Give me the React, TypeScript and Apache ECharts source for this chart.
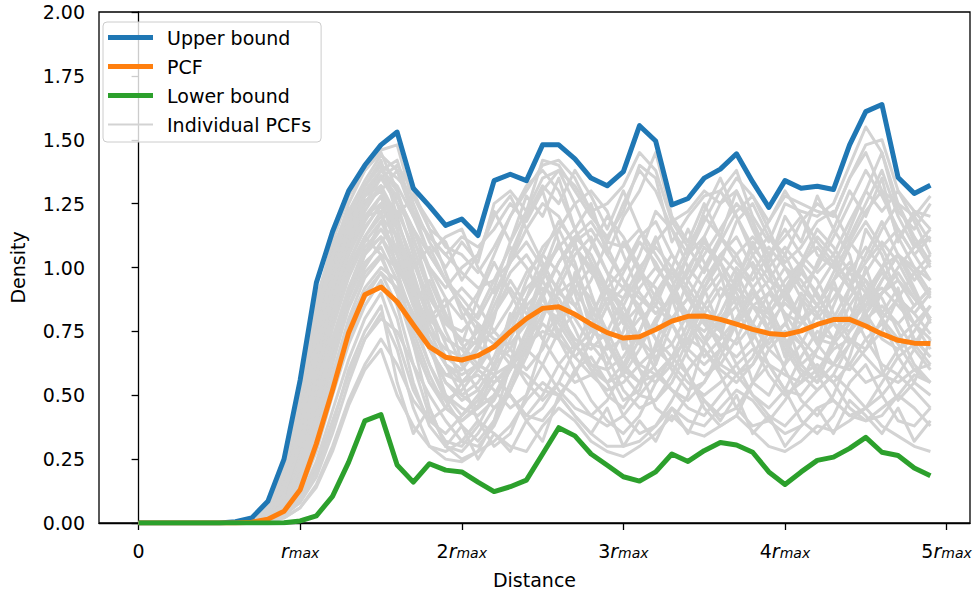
import React, { useEffect, useRef } from 'react';
import * as echarts from 'echarts';

const DISTANCE = [
  0.0, 0.1, 0.2, 0.3, 0.4, 0.5, 0.6, 0.7, 0.8, 0.9,
  1.0, 1.1, 1.2, 1.3, 1.4, 1.5, 1.6, 1.7, 1.8, 1.9,
  2.0, 2.1, 2.2, 2.3, 2.4, 2.5, 2.6, 2.7, 2.8, 2.9,
  3.0, 3.1, 3.2, 3.3, 3.4, 3.5, 3.6, 3.7, 3.8, 3.9,
  4.0, 4.1, 4.2, 4.3, 4.4, 4.5, 4.6, 4.7, 4.8, 4.9,
];

const UPPER_BOUND = [
  0, 0, 0, 0, 0, 0, 0.005, 0.02, 0.085, 0.25,
  0.56, 0.94, 1.14, 1.3, 1.4, 1.48, 1.53, 1.31, 1.24, 1.165,
  1.19, 1.125, 1.34, 1.365, 1.34, 1.48, 1.48, 1.425, 1.35, 1.32,
  1.375, 1.555, 1.495, 1.245, 1.27, 1.35, 1.385, 1.445, 1.335, 1.235,
  1.34, 1.31, 1.318, 1.305, 1.48, 1.61, 1.638, 1.352, 1.29, 1.322,
];

const PCF = [
  0, 0, 0, 0, 0, 0, 0, 0.003, 0.015, 0.046,
  0.13, 0.31, 0.52, 0.745, 0.893, 0.924, 0.866, 0.776, 0.689, 0.649,
  0.638, 0.655, 0.69, 0.748, 0.8, 0.84, 0.846, 0.817, 0.778, 0.745,
  0.724, 0.729, 0.757, 0.79, 0.809, 0.81, 0.797, 0.778, 0.758, 0.742,
  0.737, 0.752, 0.777, 0.796, 0.797, 0.771, 0.74, 0.715, 0.704, 0.703,
];

const LOWER_BOUND = [
  0, 0, 0, 0, 0, 0, 0, 0, 0, 0.001,
  0.008, 0.028, 0.104, 0.238, 0.4, 0.424, 0.227, 0.16, 0.232, 0.207,
  0.2, 0.16, 0.123, 0.142, 0.168, 0.27, 0.373, 0.341, 0.27, 0.226,
  0.181, 0.164, 0.2, 0.27, 0.241, 0.283, 0.315, 0.305, 0.277, 0.2,
  0.151, 0.2, 0.245, 0.258, 0.292, 0.335, 0.277, 0.264, 0.215, 0.185,
];

const PCF_01 = [0,0,0,0,0,0,0,0.02,0.08,0.24, 0.52,0.88,1.08,1.22,1.32,1.40,1.25,1.05,0.85,0.62, 0.55,0.62,0.80,1.05,1.20,1.30,1.10,0.90,0.70,0.62, 0.75,0.98,1.12,0.95,0.80,0.65,0.72,0.95,1.10,0.98, 0.80,0.62,0.55,0.70,0.92,1.15,1.05,0.88,0.72,0.65];
const PCF_02 = [0,0,0,0,0,0,0,0.01,0.05,0.15, 0.38,0.66,0.90,1.08,1.20,1.28,1.15,0.95,0.70,0.50, 0.42,0.48,0.62,0.78,0.95,1.08,1.15,1.02,0.82,0.60, 0.48,0.52,0.70,0.88,1.05,1.12,0.98,0.75,0.55,0.50, 0.62,0.85,1.02,1.15,1.05,0.82,0.60,0.48,0.55,0.72];
const PCF_03 = [0,0,0,0,0,0,0,0,0.01,0.03, 0.10,0.22,0.40,0.58,0.72,0.80,0.75,0.62,0.50,0.40, 0.32,0.30,0.38,0.52,0.68,0.78,0.72,0.60,0.48,0.40, 0.35,0.42,0.55,0.65,0.58,0.45,0.38,0.42,0.55,0.62, 0.52,0.40,0.35,0.42,0.55,0.62,0.50,0.40,0.38,0.45];
const PCF_04 = [0,0,0,0,0,0,0,0.02,0.06,0.20, 0.48,0.80,1.02,1.18,1.30,1.38,1.42,1.22,1.05,0.95, 0.88,0.80,0.92,1.10,1.22,1.35,1.38,1.25,1.10,0.98, 0.92,1.05,1.22,1.15,1.00,0.92,1.02,1.18,1.25,1.12, 1.02,1.08,1.18,1.22,1.10,1.02,1.15,1.25,1.12,1.02];
const PCF_05 = [0,0,0,0,0,0,0,0.01,0.03,0.10, 0.28,0.55,0.80,1.00,1.12,1.05,0.90,0.72,0.55,0.45, 0.40,0.46,0.58,0.72,0.85,0.92,0.88,0.76,0.62,0.55, 0.58,0.68,0.80,0.88,0.82,0.72,0.62,0.58,0.65,0.78, 0.86,0.80,0.70,0.62,0.60,0.68,0.80,0.88,0.82,0.74];
const PCF_06 = [0,0,0,0,0,0,0,0.01,0.04,0.12, 0.30,0.58,0.85,1.05,1.20,1.22,1.00,0.70,0.45,0.30, 0.25,0.28,0.40,0.62,0.88,1.05,1.18,1.10,0.90,0.72, 0.60,0.55,0.62,0.78,0.95,1.08,1.02,0.85,0.70,0.58, 0.50,0.55,0.68,0.85,1.00,0.95,0.80,0.65,0.55,0.50];
const PCF_07 = [0,0,0,0,0,0,0,0,0.02,0.06, 0.18,0.40,0.65,0.88,1.05,1.18,1.28,1.15,0.98,0.82, 0.70,0.62,0.58,0.62,0.75,0.90,1.02,1.12,1.05,0.92, 0.82,0.72,0.65,0.70,0.82,0.95,1.05,0.98,0.85,0.75, 0.70,0.78,0.92,1.02,0.95,0.82,0.72,0.68,0.75,0.85];
const PCF_08 = [0,0,0,0,0,0,0.005,0.02,0.07,0.22, 0.50,0.85,1.05,1.25,1.38,1.45,1.30,1.10,1.00,0.92, 1.00,1.05,1.20,1.28,1.15,1.02,0.90,0.85,0.95,1.10, 1.25,1.38,1.30,1.15,1.05,1.18,1.30,1.20,1.05,0.95, 1.05,1.18,1.25,1.20,1.35,1.45,1.30,1.12,1.00,0.95];
const PCF_09 = [0,0,0,0,0,0,0,0,0.01,0.04, 0.12,0.28,0.50,0.70,0.85,0.95,0.80,0.55,0.38,0.30, 0.28,0.35,0.45,0.50,0.42,0.40,0.48,0.60,0.65,0.55, 0.42,0.35,0.38,0.48,0.60,0.68,0.58,0.45,0.38,0.40, 0.48,0.58,0.62,0.55,0.45,0.40,0.42,0.50,0.58,0.55];
const PCF_10 = [0,0,0,0,0,0,0,0.01,0.05,0.16, 0.40,0.70,0.95,1.12,1.25,1.30,1.18,1.02,0.88,0.78, 0.72,0.70,0.75,0.85,0.98,1.05,0.98,0.85,0.75,0.72, 0.80,0.92,1.00,0.92,0.80,0.75,0.82,0.95,1.02,0.92, 0.82,0.78,0.85,0.95,1.02,0.92,0.82,0.78,0.85,0.92];
const PCF_11 = [0,0,0,0,0,0,0,0,0.02,0.08, 0.22,0.48,0.72,0.92,1.08,1.15,1.05,0.88,0.68,0.55, 0.50,0.55,0.65,0.80,0.92,0.98,0.92,0.80,0.70,0.68, 0.72,0.80,0.85,0.78,0.68,0.62,0.68,0.78,0.88,0.95, 0.90,0.80,0.72,0.70,0.78,0.88,0.92,0.85,0.78,0.72];
const PCF_12 = [0,0,0,0,0,0,0,0,0.01,0.05, 0.15,0.35,0.58,0.78,0.92,1.00,0.95,0.82,0.68,0.58, 0.55,0.58,0.52,0.45,0.50,0.62,0.75,0.82,0.78,0.65, 0.52,0.45,0.48,0.58,0.72,0.80,0.75,0.62,0.50,0.45, 0.52,0.65,0.75,0.72,0.62,0.55,0.58,0.68,0.72,0.65];
const PCF_13 = [0,0,0,0,0,0,0,0.01,0.04,0.14, 0.35,0.65,0.92,1.12,1.28,1.38,1.32,1.20,1.12,1.05, 0.98,0.92,0.95,1.02,1.15,1.25,1.20,1.08,0.98,0.92, 1.00,1.12,1.18,1.05,0.95,1.05,1.15,1.25,1.18,1.05, 1.12,1.20,1.10,1.02,1.12,1.25,1.38,1.20,1.08,1.15];
const PCF_14 = [0,0,0,0,0,0,0,0.01,0.03,0.11, 0.30,0.60,0.88,1.08,1.22,1.32,1.20,0.98,0.78,0.65, 0.60,0.68,0.82,0.95,0.85,0.72,0.62,0.55,0.58,0.70, 0.85,0.98,0.92,0.78,0.65,0.58,0.62,0.72,0.85,0.90, 0.82,0.72,0.65,0.62,0.70,0.82,0.90,0.95,0.88,0.80];
const PCF_15 = [0,0,0,0,0,0,0,0,0.01,0.03, 0.08,0.18,0.35,0.55,0.72,0.82,0.68,0.45,0.30,0.25, 0.24,0.28,0.32,0.38,0.48,0.55,0.50,0.42,0.35,0.30, 0.30,0.32,0.38,0.45,0.40,0.38,0.45,0.52,0.48,0.40, 0.35,0.38,0.45,0.48,0.42,0.40,0.45,0.50,0.45,0.38];
const PCF_16 = [0,0,0,0,0,0,0,0.01,0.06,0.18, 0.45,0.78,1.00,1.15,1.28,1.35,1.25,1.15,1.05,0.95, 0.85,0.78,0.72,0.70,0.78,0.90,1.02,1.10,1.15,1.05, 0.95,0.88,0.82,0.88,1.00,1.10,1.02,0.92,0.85,0.82, 0.92,1.02,1.08,1.00,0.92,0.85,0.90,1.00,1.08,1.12];
const PCF_17 = [0,0,0,0,0,0,0,0,0.02,0.07, 0.20,0.45,0.70,0.90,1.05,1.12,0.98,0.80,0.62,0.48, 0.38,0.32,0.40,0.55,0.70,0.82,0.90,0.95,0.88,0.75, 0.62,0.55,0.58,0.65,0.72,0.68,0.60,0.55,0.62,0.72, 0.78,0.70,0.60,0.55,0.62,0.72,0.78,0.70,0.60,0.55];
const PCF_18 = [0,0,0,0,0,0,0,0.01,0.05,0.17, 0.42,0.75,0.98,1.18,1.32,1.40,1.35,1.28,1.18,1.08, 1.05,0.98,1.08,1.20,1.30,1.40,1.42,1.35,1.22,1.10, 1.08,1.15,1.05,0.95,1.08,1.20,1.12,1.02,0.95,1.05, 1.15,1.05,0.98,1.05,1.18,1.30,1.45,1.22,1.15,1.25];
const PCF_19 = [0,0,0,0,0,0,0,0,0.01,0.04, 0.14,0.32,0.55,0.75,0.90,0.98,0.92,0.78,0.62,0.50, 0.45,0.42,0.48,0.60,0.70,0.75,0.72,0.65,0.58,0.52, 0.55,0.62,0.68,0.62,0.55,0.50,0.55,0.62,0.68,0.62, 0.58,0.55,0.60,0.68,0.72,0.65,0.58,0.55,0.60,0.62];
const PCF_20 = [0,0,0,0,0,0,0,0.01,0.04,0.13, 0.33,0.62,0.86,1.02,1.15,1.25,1.12,0.92,0.75,0.68, 0.65,0.72,0.88,1.02,1.10,1.00,0.85,0.70,0.62,0.60, 0.65,0.75,0.90,1.00,0.92,0.82,0.75,0.70,0.78,0.90, 1.00,0.95,0.85,0.78,0.75,0.82,0.95,1.05,0.98,0.88];
const PCF_21 = [0,0,0,0,0,0,0,0,0.01,0.05, 0.18,0.42,0.68,0.88,1.02,1.08,0.95,0.75,0.58,0.45, 0.40,0.45,0.55,0.62,0.58,0.52,0.50,0.58,0.72,0.85, 0.92,0.85,0.72,0.60,0.52,0.55,0.65,0.78,0.85,0.80, 0.68,0.58,0.52,0.58,0.70,0.80,0.85,0.78,0.68,0.60];
const PCF_22 = [0,0,0,0,0,0,0,0.01,0.05,0.16, 0.40,0.72,0.96,1.15,1.28,1.32,1.10,0.88,0.72,0.62, 0.58,0.62,0.70,0.78,0.88,0.98,1.08,1.15,1.02,0.85, 0.72,0.62,0.58,0.65,0.78,0.92,1.05,1.12,1.00,0.85, 0.72,0.62,0.68,0.80,0.92,1.02,1.10,1.02,0.90,0.80];
const PCF_23 = [0,0,0,0,0,0,0,0.01,0.06,0.2, 0.5,0.86,1.1,1.28,1.38,1.46,1.48,1.25,1.1,1.0, 1.1,1.02,1.25,1.3,1.22,1.42,1.4,1.3,1.2,1.12, 1.22,1.4,1.35,1.1,1.2,1.28,1.3,1.38,1.2,1.1, 1.25,1.22,1.2,1.25,1.4,1.55,1.45,1.25,1.2,1.28];
const PCF_24 = [0,0,0,0,0,0,0,0,0.01,0.05, 0.16,0.38,0.62,0.85,1.0,1.1,1.18,1.02,0.85,0.7, 0.55,0.4,0.3,0.35,0.5,0.7,0.92,1.05,1.12,0.98, 0.8,0.6,0.45,0.4,0.5,0.7,0.88,1.0,0.92,0.75, 0.6,0.48,0.42,0.5,0.65,0.85,1.0,1.05,0.92,0.78];
const PCF_25 = [0,0,0,0,0,0,0,0.01,0.04,0.14, 0.36,0.66,0.9,1.1,1.25,1.35,1.4,1.3,1.15,0.98, 0.82,0.7,0.62,0.68,0.8,0.98,1.15,1.25,1.3,1.22, 1.05,0.9,0.82,0.88,0.98,1.12,1.25,1.3,1.18,1.0, 0.88,0.8,0.85,0.98,1.1,1.22,1.3,1.25,1.1,1.0];
const PCF_26 = [0,0,0,0,0,0,0,0,0.01,0.04, 0.12,0.3,0.52,0.72,0.88,0.98,0.85,0.62,0.42,0.32, 0.3,0.38,0.5,0.62,0.68,0.62,0.52,0.45,0.42,0.48, 0.6,0.72,0.78,0.7,0.58,0.48,0.42,0.45,0.55,0.68, 0.75,0.7,0.58,0.48,0.42,0.45,0.55,0.65,0.7,0.62];
const PCF_27 = [0,0,0,0,0,0,0,0.01,0.05,0.18, 0.45,0.8,1.02,1.2,1.32,1.42,1.2,1.28,1.15,1.1, 0.95,1.05,1.22,1.1,1.28,1.2,1.35,1.15,1.25,1.05, 1.2,1.3,1.45,1.2,1.1,1.25,1.12,1.3,1.15,1.02, 1.2,1.1,1.28,1.15,1.3,1.2,1.35,1.1,1.22,1.15];
const PCF_28 = [0,0,0,0,0,0,0,0,0.01,0.03, 0.09,0.2,0.38,0.6,0.75,0.85,0.55,0.35,0.45,0.3, 0.38,0.25,0.35,0.28,0.4,0.32,0.5,0.42,0.35,0.45, 0.3,0.4,0.32,0.45,0.35,0.48,0.4,0.5,0.35,0.42, 0.3,0.38,0.45,0.35,0.48,0.42,0.35,0.45,0.32,0.4];
const PCF_29 = [0,0,0,0,0,0,0,0.01,0.03,0.12, 0.32,0.6,0.84,1.05,1.18,1.28,1.05,0.85,0.95,0.8, 0.7,0.88,1.02,0.9,0.78,0.95,1.1,0.92,0.8,0.95, 1.1,0.98,0.85,1.0,1.15,1.02,0.88,0.95,1.08,1.0, 0.88,1.0,1.12,1.05,0.92,1.05,1.18,1.05,0.95,1.02];
const PCF_30 = [0,0,0,0,0,0,0,0,0.02,0.09, 0.26,0.52,0.78,0.98,1.12,1.2,1.12,0.95,0.82,0.72, 0.68,0.75,0.7,0.62,0.72,0.85,0.78,0.68,0.75,0.88, 0.8,0.7,0.78,0.9,0.82,0.72,0.8,0.88,0.78,0.7, 0.78,0.9,0.82,0.72,0.8,0.9,0.8,0.72,0.78,0.85];
const PCF_31 = [0,0,0,0,0,0,0,0,0.01,0.02, 0.06,0.15,0.3,0.48,0.62,0.72,0.62,0.48,0.4,0.45, 0.55,0.62,0.58,0.5,0.42,0.5,0.62,0.7,0.6,0.5, 0.45,0.55,0.68,0.8,0.88,0.8,0.68,0.58,0.62,0.75, 0.88,0.98,0.9,0.78,0.7,0.78,0.9,0.98,0.88,0.8];
const PCF_32 = [0,0,0,0,0,0,0,0.01,0.05,0.16, 0.42,0.74,0.98,1.16,1.3,1.38,1.3,1.12,0.92,0.75, 0.62,0.52,0.45,0.52,0.65,0.8,0.95,1.08,1.0,0.85, 0.7,0.6,0.55,0.62,0.75,0.9,0.98,0.9,0.78,0.68, 0.62,0.7,0.82,0.92,0.85,0.72,0.62,0.58,0.68,0.8];
const PCF_33 = [0,0,0,0,0,0,0,0.01,0.04,0.15, 0.38,0.7,0.94,1.12,1.26,1.3,1.38,1.2,1.05,1.12, 1.15,1.0,0.9,1.02,1.2,1.32,1.25,1.38,1.28,1.15, 1.3,1.15,1.0,0.92,1.05,1.22,1.35,1.2,1.08,1.18, 1.3,1.2,1.05,1.0,1.15,1.3,1.22,1.3,1.18,1.05];
const PCF_34 = [0,0,0,0,0,0,0,0,0.02,0.08, 0.24,0.5,0.76,0.96,1.1,1.18,1.05,0.9,0.78,0.85, 0.92,0.85,0.75,0.68,0.6,0.68,0.8,0.92,1.0,0.9, 0.78,0.85,0.95,1.05,0.95,0.85,0.78,0.85,0.98,1.08, 1.0,0.88,0.8,0.88,0.98,1.08,1.0,0.88,0.82,0.9];
const PCF_35 = [0,0,0,0,0,0,0,0,0,0.02, 0.06,0.14,0.28,0.46,0.6,0.68,0.5,0.38,0.3,0.28, 0.32,0.4,0.35,0.3,0.28,0.38,0.45,0.4,0.32,0.28, 0.26,0.3,0.35,0.42,0.36,0.34,0.38,0.42,0.36,0.3, 0.28,0.32,0.38,0.36,0.4,0.45,0.38,0.34,0.3,0.28];
const PCF_36 = [0,0,0,0,0,0,0,0.01,0.04,0.13, 0.34,0.64,0.88,1.06,1.2,1.25,1.22,1.08,0.9,0.78, 0.75,0.82,0.95,1.08,1.0,0.88,0.75,0.65,0.72,0.85, 0.98,1.1,1.02,0.9,0.78,0.7,0.78,0.92,1.05,1.12, 1.05,0.92,0.85,0.95,1.08,1.18,1.08,0.95,0.85,0.92];
const PCF_37 = [0,0,0,0,0,0,0,0,0.02,0.07, 0.2,0.44,0.68,0.9,1.06,1.15,1.08,0.92,0.7,0.55, 0.48,0.52,0.62,0.75,0.88,1.0,1.08,1.0,0.85,0.7, 0.58,0.5,0.48,0.55,0.68,0.82,0.92,0.88,0.75,0.62, 0.52,0.5,0.58,0.72,0.85,0.95,0.88,0.75,0.62,0.55];
const PCF_38 = [0,0,0,0,0,0,0,0.01,0.03,0.1, 0.28,0.56,0.8,1.0,1.12,1.22,0.98,1.05,0.8,0.88, 0.62,0.78,0.6,0.82,0.65,0.9,0.72,0.98,0.75,0.92, 0.68,0.85,0.62,0.88,0.7,0.92,0.75,0.98,0.72,0.85, 0.65,0.88,0.7,0.95,0.78,1.0,0.82,0.92,0.7,0.8];
const PCF_39 = [0,0,0,0,0,0,0,0,0.01,0.06, 0.18,0.4,0.64,0.84,0.98,1.05,1.0,0.88,0.75,0.62, 0.5,0.45,0.5,0.6,0.75,0.85,0.8,0.7,0.6,0.55, 0.62,0.75,0.88,0.98,0.9,0.78,0.7,0.65,0.72,0.85, 0.95,1.02,0.95,0.82,0.72,0.68,0.75,0.88,0.98,1.05];
const PCF_40 = [0,0,0,0,0,0,0,0.01,0.05,0.15, 0.4,0.72,0.96,1.14,1.28,1.36,1.28,1.15,1.0,0.88, 0.8,0.9,1.05,1.2,1.32,1.38,1.3,1.15,1.02,0.92, 0.88,0.95,1.1,1.18,1.08,0.98,1.1,1.22,1.28,1.15, 1.0,0.92,1.0,1.12,1.25,1.38,1.28,1.15,1.05,1.12];
const PCF_41 = [0,0,0,0,0,0,0,0,0.01,0.04, 0.14,0.34,0.58,0.8,0.96,1.04,0.9,0.7,0.55,0.48, 0.52,0.6,0.7,0.65,0.55,0.48,0.55,0.68,0.82,0.92, 0.85,0.72,0.6,0.52,0.48,0.55,0.68,0.8,0.9,0.82, 0.7,0.6,0.55,0.62,0.75,0.88,0.98,0.9,0.78,0.68];
const PCF_42 = [0,0,0,0,0,0,0,0.01,0.03,0.11, 0.3,0.58,0.82,1.02,1.16,1.24,1.12,1.0,1.08,0.95, 0.85,0.75,0.82,0.92,0.82,0.72,0.82,0.95,1.08,1.2, 1.12,1.0,0.88,0.8,0.88,1.0,1.12,1.05,0.92,0.82, 0.9,1.02,1.15,1.08,0.98,0.9,1.0,1.12,1.2,1.1];
const PCF_43 = [0,0,0,0,0,0,0,0,0.01,0.03, 0.1,0.24,0.44,0.64,0.8,0.9,0.72,0.52,0.4,0.35, 0.42,0.5,0.58,0.5,0.4,0.45,0.55,0.5,0.42,0.38, 0.42,0.5,0.58,0.52,0.45,0.42,0.5,0.58,0.5,0.42, 0.38,0.45,0.52,0.58,0.52,0.45,0.5,0.58,0.52,0.45];
const PCF_44 = [0,0,0,0,0,0,0,0.01,0.04,0.14, 0.37,0.68,0.92,1.1,1.24,1.32,1.15,0.95,0.8,0.72, 0.68,0.6,0.55,0.6,0.72,0.88,1.02,1.12,1.18,1.08, 0.95,0.82,0.72,0.65,0.72,0.85,0.95,1.05,1.12,1.05, 0.92,0.8,0.72,0.78,0.88,0.98,1.08,1.15,1.05,0.95];
const PCF_45 = [0,0,0,0,0,0,0,0.01,0.05,0.19, 0.47,0.82,1.04,1.22,1.34,1.44,1.38,1.22,1.12,1.05, 1.12,1.08,1.15,1.25,1.18,1.3,1.38,1.32,1.22,1.25, 1.32,1.45,1.38,1.18,1.22,1.3,1.25,1.35,1.28,1.18, 1.28,1.25,1.22,1.2,1.35,1.48,1.5,1.3,1.22,1.2];
const PCF_46 = [0,0,0,0,0,0,0,0,0.02,0.08, 0.22,0.47,0.72,0.92,1.06,1.12,1.02,0.85,0.68,0.58, 0.6,0.7,0.85,0.98,1.05,0.95,0.82,0.72,0.68,0.75, 0.88,1.0,1.08,1.0,0.88,0.78,0.72,0.8,0.92,1.0, 1.08,1.0,0.88,0.8,0.78,0.85,0.95,1.05,1.0,0.9];

const INDIVIDUAL_PCFS = [
  PCF_01, PCF_02, PCF_03, PCF_04, PCF_05, PCF_06, PCF_07, PCF_08, PCF_09, PCF_10,
  PCF_11, PCF_12, PCF_13, PCF_14, PCF_15, PCF_16, PCF_17, PCF_18, PCF_19, PCF_20,
  PCF_21, PCF_22, PCF_23, PCF_24, PCF_25, PCF_26, PCF_27, PCF_28, PCF_29, PCF_30,
  PCF_31, PCF_32, PCF_33, PCF_34, PCF_35, PCF_36, PCF_37, PCF_38, PCF_39, PCF_40,
  PCF_41, PCF_42, PCF_43, PCF_44, PCF_45, PCF_46,
];

const X_TICKS = [0, 1, 2, 3, 4, 5];
const X_TICK_COEFS = ['0', '', '2', '3', '4', '5'];
const LEGEND_NAMES = ['Upper bound', 'PCF', 'Lower bound', 'Individual PCFs'];

const FONT = 'DejaVu Sans';
const BLUE = '#1f77b4';
const ORANGE = '#ff7f0e';
const GREEN = '#2ca02c';
const GRAY = '#d3d3d3';

const THICK_ICON = 'rect';
const THIN_ICON = 'path://M0,0h0.05v0.05h-0.05z M0,1.4h45v2.2h-45z M0,4.95h0.05v0.05h-0.05z';

export default function App() {
  const ref = useRef<HTMLDivElement>(null);
  useEffect(() => {
    if (!ref.current) return;
    const chart = echarts.init(ref.current, null, { renderer: 'svg' });
    const pair = (ys: number[]) => DISTANCE.map((x, i) => [x, ys[i]]);

    const series: any[] = INDIVIDUAL_PCFS.map((ys) => ({
      name: 'Individual PCFs',
      type: 'line',
      data: pair(ys),
      symbol: 'none',
      showSymbol: false,
      silent: true,
      z: 1,
      itemStyle: { color: GRAY },
      lineStyle: { color: GRAY, width: 3, join: 'round' },
    }));
    const main = (name: string, ys: number[], color: string) => ({
      name,
      type: 'line',
      data: pair(ys),
      symbol: 'none',
      showSymbol: false,
      silent: true,
      z: 3,
      itemStyle: { color },
      lineStyle: { color, width: 5, join: 'round' },
    });
    series.push(main('Upper bound', UPPER_BOUND, BLUE));
    series.push(main('PCF', PCF, ORANGE));
    series.push(main('Lower bound', LOWER_BOUND, GREEN));

    const tickRich = {
      r: { fontStyle: 'italic', fontSize: 19, fontFamily: FONT, color: '#000', verticalAlign: 'bottom', lineHeight: 22 },
      s: { fontStyle: 'italic', fontSize: 14, fontFamily: FONT, color: '#000', verticalAlign: 'bottom', lineHeight: 12 },
      n: { fontSize: 19, fontFamily: FONT, color: '#000', verticalAlign: 'bottom', lineHeight: 22 },
    };

    chart.setOption({
      animation: false,
      textStyle: { fontFamily: FONT },
      grid: {
        left: 95,
        right: 5,
        top: 12,
        bottom: 62,
        show: true,
        borderColor: '#000',
        borderWidth: 1.3,
        backgroundColor: 'transparent',
      },
      legend: {
        left: 103,
        top: 22,
        orient: 'vertical',
        padding: [6, 10, 8, 5],
        itemWidth: 45,
        itemHeight: 5,
        itemGap: 10,
        selectedMode: false,
        backgroundColor: 'rgba(255,255,255,0.8)',
        borderColor: '#cccccc',
        borderWidth: 1,
        borderRadius: 4,
        textStyle: { fontSize: 19, color: '#000', fontFamily: FONT, padding: [0, 0, 0, 9] },
        data: LEGEND_NAMES.map((name) => ({
          name,
          icon: name === 'Individual PCFs' ? THIN_ICON : THICK_ICON,
        })),
      },
      xAxis: {
        type: 'value',
        min: -0.245,
        max: 5.145,
        axisLine: { show: true, lineStyle: { color: '#000', width: 1.3 } },
        axisTick: { show: true, customValues: X_TICKS, length: 7, lineStyle: { color: '#000', width: 1.3 } },
        axisLabel: {
          customValues: X_TICKS,
          margin: 15,
          color: '#000',
          fontSize: 19,
          fontFamily: FONT,
          formatter: (v: number) => {
            const i = X_TICKS.indexOf(Math.round(v));
            if (i === 0) return '{n|0}';
            const c = X_TICK_COEFS[i];
            return (c ? `{n|${c}}` : '') + '{r|r}{s|max}';
          },
          rich: tickRich,
        },
        splitLine: { show: false },
        name: 'Distance',
        nameLocation: 'middle',
        nameGap: 47,
        nameTextStyle: { fontSize: 19, color: '#000', fontFamily: FONT },
      },
      yAxis: {
        type: 'value',
        min: 0,
        max: 2,
        interval: 0.25,
        axisLine: { show: true, lineStyle: { color: '#000', width: 1.3 } },
        axisTick: { show: true, length: 7, lineStyle: { color: '#000', width: 1.3 } },
        axisLabel: {
          margin: 14,
          color: '#000',
          fontSize: 19,
          fontFamily: FONT,
          formatter: (v: number) => v.toFixed(2),
        },
        splitLine: { show: false },
        name: 'Density',
        nameLocation: 'middle',
        nameGap: 72,
        nameTextStyle: { fontSize: 19, color: '#000', fontFamily: FONT },
      },
      series,
    });
    return () => chart.dispose();
  }, []);
  return <div ref={ref} style={{ position: 'absolute', left: 0, top: 0, width: 975, height: 594 }} />;
}
